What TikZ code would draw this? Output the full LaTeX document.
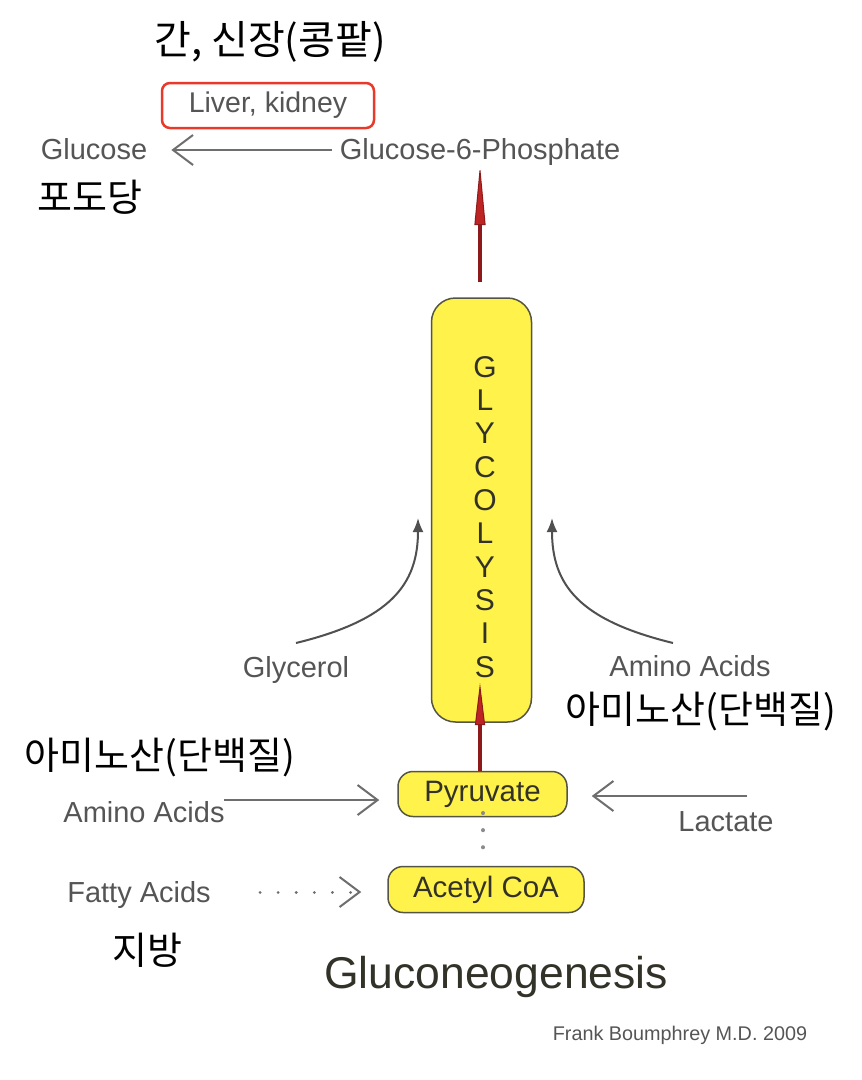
\documentclass[tikz,border=0pt]{standalone}
\usepackage{fontspec}
\setmainfont{Liberation Sans}
\newfontfamily\krfont{Noto Sans CJK KR}
\usetikzlibrary{arrows.meta}
\definecolor{lbl}{RGB}{85,85,85}
\definecolor{ln}{RGB}{110,110,110}
\definecolor{cv}{RGB}{80,80,80}
\definecolor{yel}{RGB}{255,242,74}
\definecolor{ybord}{RGB}{85,85,70}
\definecolor{redbox}{RGB}{232,57,43}
\definecolor{shaftred}{RGB}{140,26,26}
\definecolor{tipred}{RGB}{190,36,36}
\definecolor{boxtext}{RGB}{50,50,40}
\begin{document}
\begin{tikzpicture}[x=1pt,y=-1pt,
  lab/.style={text=lbl,font=\fontsize{29}{32}\selectfont,inner sep=0pt,anchor=base},
  kor/.style={text=black,font=\krfont\fontsize{38}{42}\selectfont,inner sep=0pt},
  ybox/.style={draw=ybord,fill=yel,line width=1.5pt,text=boxtext,font=\fontsize{29.5}{32}\selectfont,inner sep=0pt},
  letter/.style={text=boxtext,font=\fontsize{30}{32}\selectfont,inner sep=0pt},
  chev/.style={draw=ln,line width=2pt,-{Straight Barb[length=20pt,width=30pt,line width=2pt]}},
  curv/.style={draw=cv,line width=2pt,-{Latex[length=14pt,width=11pt]}},
  redarr/.style={draw=shaftred,line width=4pt},
  dots/.style={draw=ln!80,line width=4pt,line cap=round,dash pattern=on 0.1pt off 17pt}
]
\useasboundingbox (0,0) rectangle (862,1080);
\fill[white] (0,0) rectangle (862,1080);

% top Korean and liver box
\node[kor,font=\krfont\fontsize{40}{44}\selectfont] (kor1) at (270,42) {간, 신장(콩팥)};
\node[draw=redbox,line width=2.5pt,rounded corners=8pt,minimum width=212pt,minimum height=45pt,
      text=lbl,font=\fontsize{28.5}{30}\selectfont,inner sep=0pt] (liver) at (268,105.5) {Liver, kidney};

% glucose row
\node[lab] (glc) at (94,159) {Glucose};
\node[lab] (g6p) at (480,159) {Glucose-6-Phosphate};
\coordinate (g6pw) at (332,150);
\draw[chev,shorten >=24pt] (g6pw) -- (g6pw -| glc.east);
\node[kor] (podo) at (90,197) {포도당};

% glycolysis box
\node[ybox,rounded corners=24pt,minimum width=100pt,minimum height=424pt] (glyc) at (481.5,510) {};
\foreach \l [count=\i from 0] in {G,L,Y,C,O,L,Y,S,I,S}
  \node[letter] (gl\i) at (485,367+33.33*\i) {\l};

% upper red arrow
\draw[redarr,-{Triangle[length=60pt,width=11pt,line width=1pt,fill=tipred]}]
  ([yshift=15pt]glyc.north -| 480,0) -- (480,165);

% curved arrows
\node[lab] (glyr) at (296,677) {Glycerol};
\node[lab] (aar) at (690,676) {Amino Acids};
\coordinate (glys) at (296,643);
\coordinate (glyt) at (418,518);
\coordinate (aars) at (673,643);
\coordinate (aart) at (552,518);
\draw[curv] (glys) .. controls (390,620) and (418,585) .. (glyt);
\draw[curv] (aars) .. controls (579,620) and (552,585) .. (aart);
\node[kor] (korr) at (701,712) {아미노산(단백질)};
\node[kor] (korl) at (160,757) {아미노산(단백질)};

% pyruvate & acetyl CoA
\node[ybox,rounded corners=15pt,minimum width=169pt,minimum height=45pt] (pyr) at (482.5,794) {Pyruvate};
\node[ybox,rounded corners=15pt,minimum width=196pt,minimum height=46pt] (acc) at (486,889.5) {Acetyl CoA};
\draw[dots] (483,813) -- (483,856);

% lower red arrow
\coordinate (rtip) at (480,683);
\draw[redarr,-{Triangle[length=42pt,width=10pt,line width=1pt,fill=tipred]}]
  (pyr.north -| rtip) -- (rtip);

% side inputs
\node[lab] (aal) at (144,822) {Amino Acids};
\coordinate (aas) at (224,800);
\draw[chev,shorten >=18pt] (aas) -- (aas -| pyr.west);
\node[lab] (lac) at (726,831) {Lactate};
\coordinate (las) at (747,796);
\draw[chev,shorten >=24pt] (las) -- (las -| pyr.east);
\node[lab] (fat) at (139,902) {Fatty Acids};
\coordinate (fas) at (260,892);
\draw[chev,line width=3pt,line cap=round,dash pattern=on 0.1pt off 18pt,shorten >=26pt] (fas) -- (fas -| acc.west);
\node[kor] (jibang) at (147,950) {지방};

% title and credit
\node[text=boxtext,font=\fontsize{44.5}{48}\selectfont,inner sep=0pt,anchor=base] (title) at (496,988) {Gluconeogenesis};
\node[text=lbl,font=\fontsize{19.8}{22}\selectfont,inner sep=0pt,anchor=base] (credit) at (680,1040) {Frank Boumphrey M.D. 2009};
\end{tikzpicture}
\end{document}
